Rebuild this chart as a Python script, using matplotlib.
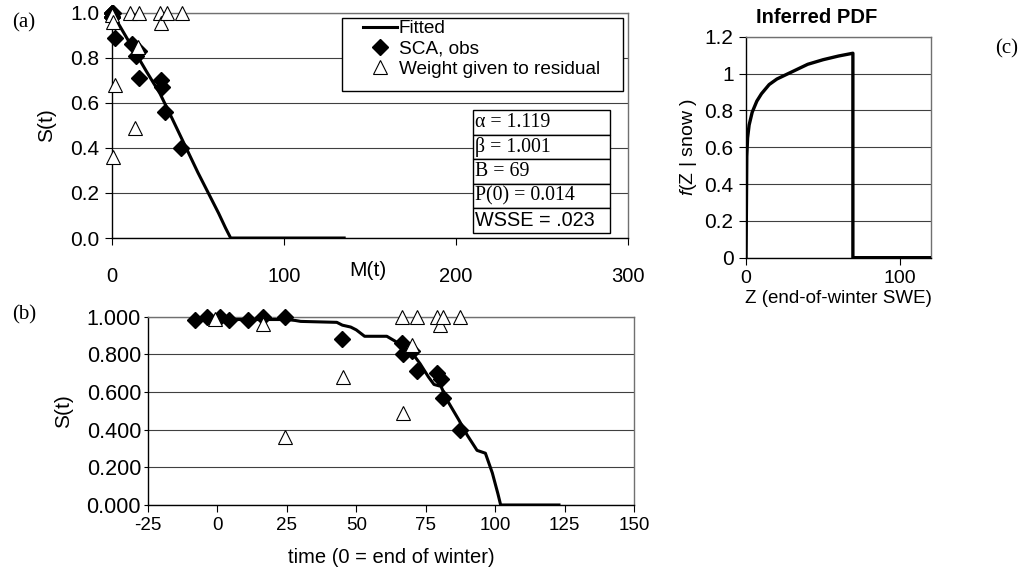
import matplotlib
matplotlib.use("Agg")
import matplotlib.pyplot as plt
from matplotlib.patches import Rectangle

plt.rcParams["font.family"] = ["Liberation Sans", "DejaVu Sans"]
plt.rcParams["mathtext.fontset"] = "custom"
plt.rcParams["mathtext.it"] = "Liberation Sans:italic"
plt.rcParams["mathtext.rm"] = "Liberation Sans"
plt.rcParams["axes.unicode_minus"] = False

# (a) S(t) vs cumulative melt M(t)
fit_m = [0, 10, 20, 28, 35, 40, 50, 56, 62, 66, 69, 135]
fit_s_m = [1.0, 0.87, 0.74, 0.64, 0.53, 0.45, 0.29, 0.20, 0.11, 0.045, 0.0, 0.0]
obs_m = [0, 0, 0, 0, 0, 0, 0.5, 2, 11.5, 14, 16, 16, 28.5, 29, 31, 40]
obs_s_m = [1.0, 0.98, 0.98, 1.0, 0.98, 1.0, 1.0, 0.89, 0.86, 0.81, 0.83, 0.71, 0.70, 0.67, 0.56, 0.40]
wt_m = [0, 0.5, 0.5, 2, 10.5, 13.4, 15.3, 16, 28, 28.5, 32, 40.5]
wt_s_m = [0.99, 0.96, 0.36, 0.68, 1.0, 0.49, 0.85, 1.0, 1.0, 0.955, 1.0, 1.0]
params = ["\u03b1 = 1.119", "\u03b2 = 1.001", "B = 69", "P(0) = 0.014", "WSSE = .023"]

# (b) S(t) vs time
fit_t = [-8, 25, 28, 30, 43, 45, 48, 50, 53, 61, 64, 66, 68, 70, 73, 76, 78, 80.5,
         83, 87, 90, 93.5, 96.5, 99, 101, 102, 123]
fit_s_t = [0.985, 0.985, 0.98, 0.975, 0.97, 0.955, 0.945, 0.93, 0.896, 0.896, 0.87, 0.85,
           0.83, 0.81, 0.75, 0.68, 0.64, 0.63, 0.55, 0.45, 0.37, 0.29, 0.275, 0.17, 0.06, 0.0, 0.0]
obs_t = [-7.9, -3.7, 1.1, 4, 10.9, 16.4, 24.5, 45, 66.4, 67, 70, 72, 79, 80.5, 81.4, 87.2]
obs_s_t = [0.98, 1.0, 1.0, 0.98, 0.98, 1.0, 1.0, 0.884, 0.86, 0.80, 0.82, 0.71, 0.70, 0.67, 0.566, 0.40]
wt_t = [-1, 16.4, 24.5, 45.2, 66.4, 67, 70, 72, 79, 80.2, 81.4, 87.2]
wt_s_t = [0.99, 0.96, 0.36, 0.68, 1.0, 0.49, 0.85, 1.0, 1.0, 0.955, 1.0, 1.0]

# (c) inferred pdf of end-of-winter SWE
pdf_z = [0, 0.5, 1, 2, 4, 7, 10, 15, 20, 30, 40, 50, 60, 69.3, 69.3, 120]
pdf_f = [0, 0.55, 0.65, 0.72, 0.79, 0.85, 0.89, 0.94, 0.97, 1.01, 1.05, 1.075, 1.095, 1.11, 0, 0]

GRID = "#404040"
BORDER = "#707070"
serif = ["Liberation Serif", "DejaVu Serif"]


def style_axes(ax, xsize, ysize, xpad, ypad, ylen=5):
    ax.set_facecolor("white")
    ax.yaxis.grid(True, color=GRID, lw=0.8)
    ax.set_axisbelow(True)
    for side in ("top", "right"):
        ax.spines[side].set_color(BORDER)
        ax.spines[side].set_linewidth(1.0)
    for side in ("left", "bottom"):
        ax.spines[side].set_color("black")
        ax.spines[side].set_linewidth(1.0)
    ax.tick_params(axis="x", direction="out", length=5, width=0.8, labelsize=xsize, pad=xpad)
    ax.tick_params(axis="y", direction="out", length=ylen, width=0.8, labelsize=ysize, pad=ypad)


fig = plt.figure(figsize=(10.32, 5.73), dpi=100)

# ---- panel (a)
ax1 = fig.add_axes([0.1085, 0.5846, 0.5, 0.3932])
style_axes(ax1, 14.5, 15, 16, 4)
ax1.plot(fit_m, fit_s_m, color="black", lw=2.2, label="Fitted", zorder=3)
ax1.plot(obs_m, obs_s_m, "D", color="black", ms=8, ls="none", label="SCA, obs",
         clip_on=False, zorder=4)
ax1.plot(wt_m, wt_s_m, "^", mfc="white", mec="black", mew=0.8, ms=10, ls="none",
         label="Weight given to residual", clip_on=False, zorder=5)
ax1.set_xlim(0, 300)
ax1.set_ylim(0, 1.0)
ax1.set_xticks([0, 100, 200, 300])
ax1.set_yticks([0, 0.2, 0.4, 0.6, 0.8, 1.0])
ax1.set_yticklabels(["0.0", "0.2", "0.4", "0.6", "0.8", "1.0"])
ax1.set_ylabel("S(t)", fontsize=15, labelpad=10)
ax1.text(0.496, -0.142, "M(t)", transform=ax1.transAxes, fontsize=15,
         ha="center", va="center")

ax1.add_patch(Rectangle((0.445, 0.654), 0.545, 0.322, transform=ax1.transAxes,
                        facecolor="white", edgecolor="black", lw=1.0, zorder=6))
leg = ax1.legend(loc="upper left", bbox_to_anchor=(0.486, 0.968), fontsize=13.7,
                 frameon=False, handlelength=1.8, handletextpad=0.1, borderpad=0,
                 labelspacing=0.15, borderaxespad=0)
leg.set_zorder(7)

tbl = ax1.table(cellText=[[p] for p in params], cellLoc="left",
                bbox=[0.699, 0.022, 0.2667, 0.546], zorder=6)
tbl.auto_set_font_size(False)
for i in range(len(params)):
    cell = tbl[i, 0]
    cell.set_edgecolor("black")
    cell.set_linewidth(1.0)
    cell.set_facecolor("white")
    cell.PAD = 0.02
    txt = cell.get_text()
    txt.set_fontsize(14.3)
    if i < 4:
        txt.set_fontfamily(serif)

# ---- panel (b)
ax2 = fig.add_axes([0.1434, 0.1187, 0.4709, 0.3286])
style_axes(ax2, 13.5, 15.5, 4, 2, ylen=3)
ax2.plot(fit_t, fit_s_t, color="black", lw=2.2, zorder=3)
ax2.plot(obs_t, obs_s_t, "D", color="black", ms=8, ls="none", clip_on=False, zorder=4)
ax2.plot(wt_t, wt_s_t, "^", mfc="white", mec="black", mew=0.8, ms=10, ls="none",
         clip_on=False, zorder=5)
ax2.set_xlim(-25, 150)
ax2.set_ylim(0, 1.0)
ax2.set_xticks([-25, 0, 25, 50, 75, 100, 125, 150])
ax2.set_yticks([0, 0.2, 0.4, 0.6, 0.8, 1.0])
ax2.set_yticklabels(["0.000", "0.200", "0.400", "0.600", "0.800", "1.000"])
ax2.set_ylabel("S(t)", fontsize=15, labelpad=10)
ax2.set_xlabel("time (0 = end of winter)", fontsize=14.5, labelpad=10)

# ---- panel (c)
ax3 = fig.add_axes([0.7229, 0.5503, 0.1793, 0.3857])
style_axes(ax3, 14, 15, 4, 4)
ax3.plot(pdf_z, pdf_f, color="black", lw=2.4, zorder=3)
ax3.set_xlim(0, 120)
ax3.set_ylim(0, 1.2)
ax3.set_xticks([0, 100])
ax3.set_yticks([0, 0.2, 0.4, 0.6, 0.8, 1.0, 1.2])
ax3.set_yticklabels(["0", "0.2", "0.4", "0.6", "0.8", "1", "1.2"])
ax3.set_ylabel(r"$\it{f}$(Z | snow )", fontsize=14, labelpad=4)
ax3.set_xlabel("Z (end-of-winter SWE)", fontsize=13.5, labelpad=2)
fig.text(0.7917, 0.969, "Inferred PDF", fontsize=14.5, fontweight="bold",
         ha="center", va="center")

# panel letters
fig.text(0.0116, 0.960, "(a)", fontsize=15, family=serif, va="center", ha="left")
fig.text(0.0116, 0.450, "(b)", fontsize=15, family=serif, va="center", ha="left")
fig.text(0.964, 0.914, "(c)", fontsize=15, family=serif, va="center", ha="left")

fig.savefig("out.png", dpi=100, facecolor="white")
